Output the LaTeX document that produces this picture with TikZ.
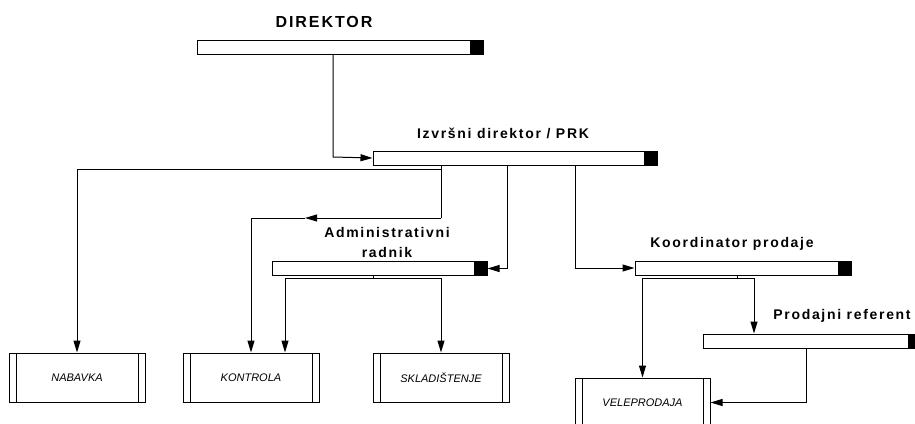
\documentclass[tikz,border=0pt]{standalone}
\usepackage{fontspec}
\setmainfont{Liberation Sans}
\newfontfamily\hdfont[LetterSpace=12]{Liberation Sans}
\usetikzlibrary{arrows.meta, calc}

\begin{document}
\begin{tikzpicture}[
  x=1pt, y=-1pt,
  every node/.style={inner sep=0pt},
  arr/.style={-{Triangle[length=12pt, width=7pt]}, line width=1pt},
  ln/.style={line width=1pt},
  bar/.style={draw, line width=1pt, fill=white, minimum height=14pt,
    path picture={\fill[black] ([xshift=-13pt]path picture bounding box.north east)
      rectangle (path picture bounding box.south east);}},
  head/.style={font=\hdfont\bfseries\fontsize{14}{20}\selectfont, align=center},
  unit/.style={draw, line width=1pt, minimum width=136pt, minimum height=49pt,
    font=\itshape\fontsize{11}{12}\selectfont,
    path picture={\draw[line width=1pt]
      ([xshift=7pt]path picture bounding box.north west) --
      ([xshift=7pt]path picture bounding box.south west)
      ([xshift=-7pt]path picture bounding box.north east) --
      ([xshift=-7pt]path picture bounding box.south east);}},
]
\useasboundingbox (0,0) rectangle (915,423);
\clip (0,0) rectangle (915,423);

%% ---- heads ----
\node[bar, minimum width=286pt] (dir) at (340,47.5) {};
\node[head, font=\hdfont\bfseries\fontsize{16}{20}\selectfont] (dirlbl) at (324,22) {DIREKTOR};

\node[bar, minimum width=284pt] (izv) at (515,158) {};
\node[head] (izvlbl) at (503,133) {Izvršni direktor / PRK};

\node[bar, minimum width=215pt] (adm) at (379.5,268.5) {};
\node[head] (admlbl) at (387,242) {Administrativni\\radnik};

\node[bar, minimum width=216pt] (koo) at (743,268) {};
\node[head] (koolbl) at (732,244) {Koordinator prodaje};

\node[bar, minimum width=218pt] (pro) at (812,341) {};
\node[head] (prolbl) at (842,316) {Prodajni referent};

%% ---- units ----
\node[unit] (nab) at (77,377.5)  {NABAVKA};
\node[unit] (kon) at (251,377.5) {KONTROLA};
\node[unit] (skl) at (441,377.5) {SKLADIŠTENJE};
\node[unit, minimum width=135pt] (vel) at (642.5,402.5) {VELEPRODAJA};

%% ---- bends ----
\coordinate (b1) at (333,157);
\coordinate (t1) at (441,169);
\coordinate (t2) at (441,218);
\coordinate (m2) at (305,218);
\coordinate (t3) at (507,0);
\coordinate (t4) at (575,0);
\coordinate (a1) at (373,278);
\coordinate (k1) at (737,278);
\coordinate (k2) at (754,0);
\coordinate (p1) at (806,0);

%% ---- connectors ----
\draw[arr] (dir.south -| b1) -- (b1) -- (izv.west);
\draw[ln] (izv.south -| t1) -- (t2);
\draw[arr] (t1) -| (nab.north);
\draw[arr] (t2) -- (m2);
\draw[arr] (m2) -| (kon.north);
\draw[arr] (izv.south -| t3) |- (adm.east);
\draw[arr] (izv.south -| t4) |- (koo.west);

\draw[ln] (adm.south -| a1) -- (a1);
\draw[arr] (a1) -| ([xshift=34pt]kon.north);
\draw[arr] (a1) -| (skl.north);

\draw[ln] (koo.south -| k1) -- (k1);
\draw[arr] (k1) -| (vel.north);
\draw[arr] (k1) -| (pro.north -| k2);
\draw[arr] (pro.south -| p1) |- (vel.east);

\end{tikzpicture}
\end{document}
